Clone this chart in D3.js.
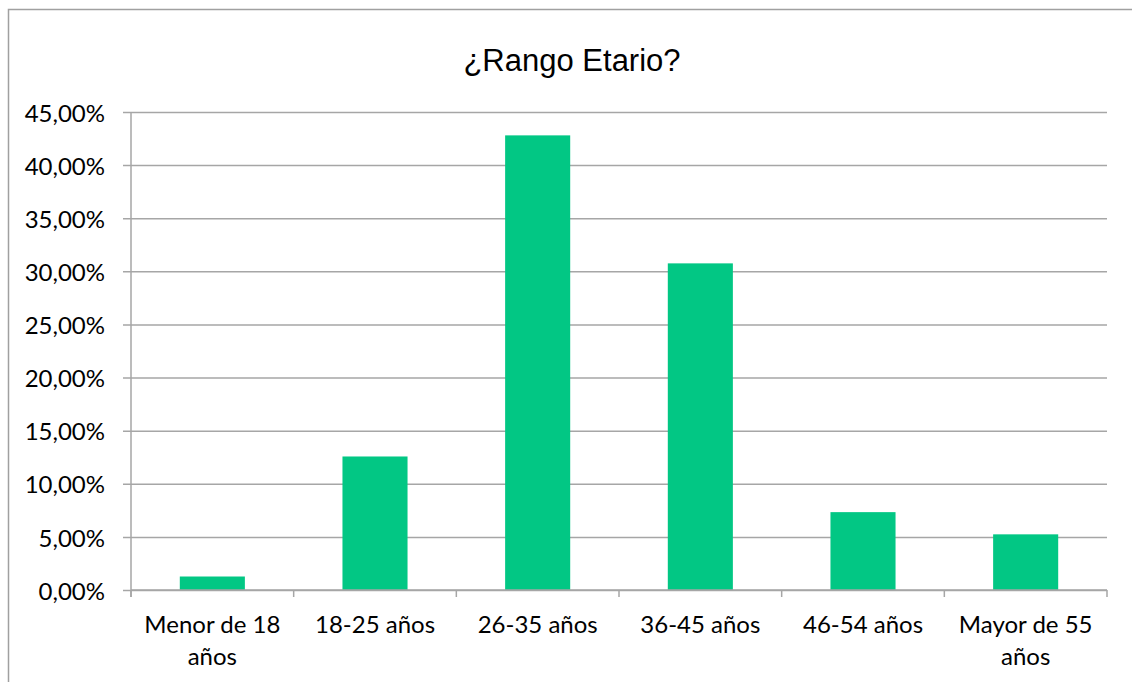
<!DOCTYPE html>
<html>
<head>
<meta charset="utf-8">
<script src="https://cdn.jsdelivr.net/npm/d3@7"></script>
<style>
  body { margin: 0; background: #fff; }
  svg { display: block; }
</style>
</head>
<body>
<div id="viz"></div>
<script>
// Age ranges of the respondents, share of answers (%)
var categories = ["Menor de 18 años", "18-25 años", "26-35 años", "36-45 años", "46-54 años", "Mayor de 55 años"];
var values = [1.27, 12.57, 42.80, 30.75, 7.33, 5.24];
var yTicks = [0, 5, 10, 15, 20, 25, 30, 35, 40, 45];
var title = "¿Rango Etario?";

var W = 1132, H = 682;
var plotLeft = 131, plotRight = 1107, plotTop = 112, plotBottom = 590;
var barColor = "#02c784";
var gridColor = "#a6a6a6";
var labelFont = "Lato, 'Open Sans', sans-serif";
var labelSize = 24;

var svg = d3.select("#viz").append("svg")
    .attr("width", W).attr("height", H);

// chart frame (runs off the right and bottom of the picture)
svg.append("rect")
    .attr("x", 8.5).attr("y", 9.5)
    .attr("width", 1140).attr("height", 700)
    .attr("fill", "none")
    .attr("stroke", "#a0a0a0")
    .attr("stroke-width", 1.5);

svg.append("text")
    .attr("x", 572).attr("y", 71)
    .attr("text-anchor", "middle")
    .attr("font-family", "'Liberation Sans', Arial, sans-serif")
    .attr("font-size", 31)
    .attr("fill", "#000")
    .text(title);

var x = d3.scaleBand()
    .domain(categories)
    .range([plotLeft, plotRight])
    .paddingInner(0.6)
    .paddingOuter(0.3);

var y = d3.scaleLinear()
    .domain([0, 45])
    .range([plotBottom, plotTop]);

// horizontal gridlines + y labels
var yAxis = d3.axisLeft(y)
    .tickValues(yTicks)
    .tickSize(-(plotRight - plotLeft))
    .tickSizeOuter(0)
    .tickFormat(function(d) { return d.toFixed(2).replace(".", ",") + "%"; });

var gy = svg.append("g")
    .attr("transform", "translate(" + plotLeft + ",0)")
    .call(yAxis);
gy.select(".domain").remove();
gy.selectAll(".tick line")
    .attr("x1", -8)
    .attr("stroke", gridColor)
    .attr("stroke-width", 1.5);
gy.selectAll(".tick text")
    .attr("x", -26)
    .attr("dy", "0.38em")
    .attr("font-family", labelFont)
    .attr("font-size", labelSize)
    .attr("fill", "#000");

// vertical axis line
svg.append("line")
    .attr("x1", plotLeft).attr("x2", plotLeft)
    .attr("y1", plotTop).attr("y2", plotBottom + 7)
    .attr("stroke", gridColor)
    .attr("stroke-width", 1.5);

// bars
svg.append("g").selectAll("rect")
    .data(values)
    .join("rect")
    .attr("x", function(d, i) { return x(categories[i]); })
    .attr("y", function(d) { return y(d); })
    .attr("width", x.bandwidth())
    .attr("height", function(d) { return y(0) - y(d); })
    .attr("fill", barColor);

// category axis line and ticks between bands
svg.append("line")
    .attr("x1", plotLeft).attr("x2", plotRight)
    .attr("y1", plotBottom).attr("y2", plotBottom)
    .attr("stroke", gridColor)
    .attr("stroke-width", 1.5);

var bounds = categories.map(function(c) { return x(c) - x.step() * x.paddingInner() / 2; });
bounds.push(plotRight);
svg.append("g").selectAll("line")
    .data(bounds)
    .join("line")
    .attr("x1", function(d) { return d; }).attr("x2", function(d) { return d; })
    .attr("y1", plotBottom).attr("y2", plotBottom + 7)
    .attr("stroke", gridColor)
    .attr("stroke-width", 1.5);

// category labels, wrapped to the band width
var labels = svg.append("g").selectAll("text")
    .data(categories)
    .join("text")
    .attr("text-anchor", "middle")
    .attr("font-family", labelFont)
    .attr("font-size", labelSize)
    .attr("fill", "#000")
    .attr("transform", function(d) { return "translate(" + (x(d) + x.bandwidth() / 2) + "," + 633 + ")"; });

labels.each(function(d) {
    var t = d3.select(this);
    var words = d.split(" ");
    var lines = [], line = [];
    var probe = t.append("tspan");
    words.forEach(function(w) {
        line.push(w);
        probe.text(line.join(" "));
        if (probe.node().getComputedTextLength() > x.step() - 10 && line.length > 1) {
            line.pop();
            lines.push(line.join(" "));
            line = [w];
        }
    });
    lines.push(line.join(" "));
    probe.remove();
    lines.forEach(function(l, i) {
        t.append("tspan").attr("x", 0).attr("y", i * 32).text(l);
    });
});
</script>
</body>
</html>
